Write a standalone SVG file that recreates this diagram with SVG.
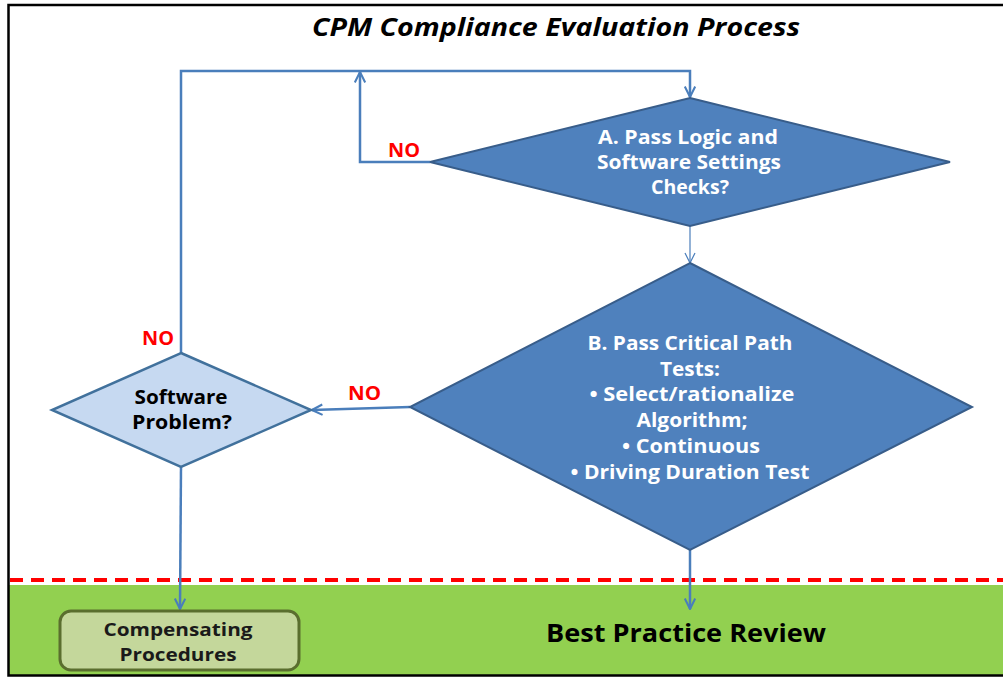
<svg xmlns="http://www.w3.org/2000/svg" width="1003" height="677" viewBox="0 0 1003 677">
  <style>
    .frame { fill: none; stroke: #000; stroke-width: 2.5; }
    .band { fill: #92D050; }
    .divider { stroke: #FF0000; stroke-width: 4; stroke-dasharray: 13 8; fill: none; }
    .title { font-family: "Open Sans", "Liberation Sans", sans-serif; font-weight: bold; font-style: italic; font-size: 25px; fill: #000; }
    .dec-dark { fill: #4F81BD; stroke: #385D8A; stroke-width: 2; }
    .dec-light { fill: #C6D9F1; stroke: #41719C; stroke-width: 2.5; }
    .box { fill: #C4D79B; stroke: #5A6E2E; stroke-width: 3; }
    .wtext { font-family: "Open Sans", "Liberation Sans", sans-serif; font-weight: bold; font-size: 19px; fill: #fff; text-anchor: middle; }
    .btext { font-family: "Open Sans", "Liberation Sans", sans-serif; font-weight: bold; font-size: 19px; fill: #000; text-anchor: middle; }
    .ctext { font-family: "Open Sans", "Liberation Sans", sans-serif; font-weight: bold; font-size: 17px; fill: #1a1a1a; text-anchor: middle; }
    .review { font-family: "Open Sans", "Liberation Sans", sans-serif; font-weight: bold; font-size: 25px; fill: #000; text-anchor: middle; }
    .no { font-family: "Open Sans", "Liberation Sans", sans-serif; font-weight: bold; font-size: 19px; fill: #FF0000; }
    .link { fill: none; stroke: #4A7EBB; stroke-width: 2.5; }
    .link-thin { fill: none; stroke: #4A7EBB; stroke-width: 1.2; }
  </style>
  <defs>
    <marker id="arrow" viewBox="0 0 12 12" refX="11" refY="6" markerWidth="5" markerHeight="5" orient="auto" markerUnits="strokeWidth">
      <path d="M1,1 L11,6 L1,11" fill="none" stroke="#4A7EBB" stroke-width="2"/>
    </marker>
    <marker id="arrow-thin" viewBox="0 0 12 12" refX="11" refY="6" markerWidth="10" markerHeight="10" orient="auto" markerUnits="strokeWidth">
      <path d="M1,1 L11,6 L1,11" fill="none" stroke="#4A7EBB" stroke-width="1.2"/>
    </marker>
  </defs>

  <rect x="0" y="0" width="1003" height="677" fill="#fff"/>

  <!-- review zone -->
  <rect class="band" x="9" y="585" width="994" height="90"/>
  <line class="divider" x1="10" y1="580" x2="1003" y2="580"/>

  <!-- outer frame (open on the right) -->
  <path class="frame" d="M1003,5 H8.5 V675.5 H1003"/>

  <text class="title" x="556" y="36" text-anchor="middle" textLength="488" lengthAdjust="spacingAndGlyphs">CPM Compliance Evaluation Process</text>

  <!-- connectors -->
  <g id="connectors">
    <path class="link" d="M181,353 V71 H690 V97" marker-end="url(#arrow)"/>
    <path class="link" d="M430,162 H360 V72" marker-end="url(#arrow)"/>
    <path class="link-thin" d="M690,226 V263" marker-end="url(#arrow-thin)"/>
    <path class="link" d="M410,407 L312,410" marker-end="url(#arrow)"/>
    <path class="link" d="M181,467 L180,609" marker-end="url(#arrow)"/>
    <path class="link" d="M690,550 V609" marker-end="url(#arrow)"/>
    <text class="no" x="388" y="157" textLength="32" lengthAdjust="spacingAndGlyphs">NO</text>
    <text class="no" x="348" y="400" textLength="33" lengthAdjust="spacingAndGlyphs">NO</text>
    <text class="no" x="142" y="345" textLength="32" lengthAdjust="spacingAndGlyphs">NO</text>
  </g>

  <g id="check-logic">
    <polygon class="dec-dark" points="690,98 950,162 690,226 430,162"/>
    <text class="wtext" x="688" y="144" textLength="180" lengthAdjust="spacingAndGlyphs">A. Pass Logic and</text>
    <text class="wtext" x="689" y="169" textLength="184" lengthAdjust="spacingAndGlyphs">Software Settings</text>
    <text class="wtext" x="690" y="194" textLength="78" lengthAdjust="spacingAndGlyphs">Checks?</text>
  </g>

  <g id="critical-path">
    <polygon class="dec-dark" points="690,263 972,407 690,550 410,407"/>
    <text class="wtext" x="690" y="350" textLength="205" lengthAdjust="spacingAndGlyphs">B. Pass Critical Path</text>
    <text class="wtext" x="690" y="376" textLength="60" lengthAdjust="spacingAndGlyphs">Tests:</text>
    <text class="wtext" x="692" y="401" textLength="205" lengthAdjust="spacingAndGlyphs">• Select/rationalize</text>
    <text class="wtext" x="692" y="427" textLength="111" lengthAdjust="spacingAndGlyphs">Algorithm;</text>
    <text class="wtext" x="691" y="453" textLength="138" lengthAdjust="spacingAndGlyphs">• Continuous</text>
    <text class="wtext" x="690" y="479" textLength="239" lengthAdjust="spacingAndGlyphs">• Driving Duration Test</text>
  </g>

  <g id="software-problem">
    <polygon class="dec-light" points="181,353 311,410 181,467 52,410"/>
    <text class="btext" x="181" y="404" textLength="93" lengthAdjust="spacingAndGlyphs">Software</text>
    <text class="btext" x="182" y="429" textLength="100" lengthAdjust="spacingAndGlyphs">Problem?</text>
  </g>

  <g id="compensating">
    <rect class="box" x="60" y="611" width="239" height="59" rx="11" ry="11"/>
    <text class="ctext" x="178" y="636" textLength="149" lengthAdjust="spacingAndGlyphs">Compensating</text>
    <text class="ctext" x="178" y="661" textLength="117" lengthAdjust="spacingAndGlyphs">Procedures</text>
  </g>

  <g id="best-practice">
    <text class="review" x="686" y="642" textLength="280" lengthAdjust="spacingAndGlyphs">Best Practice Review</text>
  </g>
</svg>
